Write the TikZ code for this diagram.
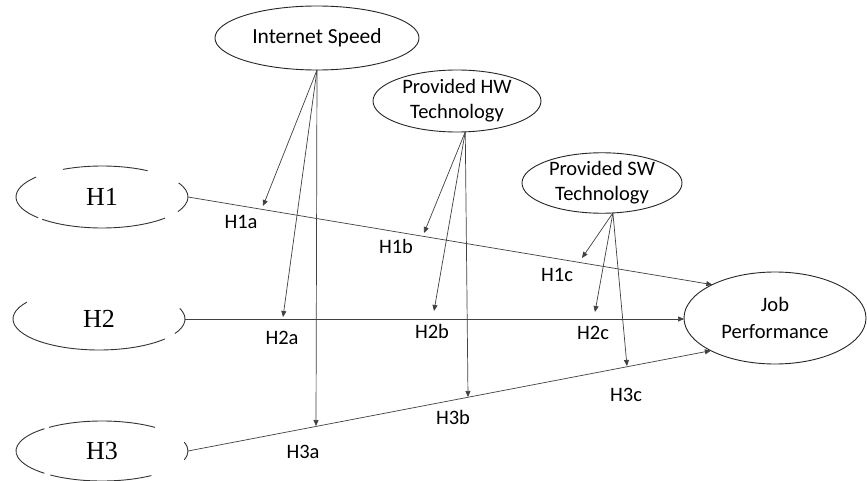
\documentclass[tikz,border=0pt]{standalone}
\usepackage{fontspec}
\setmainfont{Carlito}
\newfontfamily\hfont{Liberation Serif}
\usetikzlibrary{shapes.geometric,arrows.meta}
\newcommand\hyparc[5]{\draw[brk] ([shift={(#2:#4pt and #5pt)}]#1.center) arc[start angle=#2,end angle=#3,x radius=#4pt,y radius=#5pt];}
\begin{document}
\begin{tikzpicture}[x=1pt,y=1pt,
  conn/.style={draw=black!75, line width=0.7pt},
  arr/.style={conn, -{Triangle[length=6pt,width=5pt]}},
  ell/.style={ellipse, draw=black!85, line width=0.9pt, inner sep=0pt, outer sep=0pt, align=center, text=black, font=\fontsize{20.5}{25}\selectfont},
  hyp/.style={ellipse, inner sep=0pt, outer sep=0pt, minimum width=172pt, minimum height=62pt, text=black, font=\hfont\fontsize{26}{30}\selectfont},
  lbl/.style={font=\fontsize{20.5}{24}\selectfont, inner sep=0pt, text=black},
  brk/.style={draw=black!80, line width=0.9pt}
]
\useasboundingbox (0,0) rectangle (867,-481);
\fill[white] (0,0) rectangle (867,-481);

% hypothesis groups (broken ellipses)
\node[hyp] (H1) at (102,-197) {H1};
\node[hyp] (H2) at (99,-319) {H2};
\node[hyp, minimum height=60pt] (H3) at (102,-451) {H3};
\hyparc{H1}{140}{222}{86}{31}
\hyparc{H1}{58}{117}{86}{31}
\hyparc{H1}{226}{317}{86}{31}
\hyparc{H1}{-28}{27}{86}{31}
\hyparc{H2}{147}{320}{86}{31}
\hyparc{H2}{-28}{20}{86}{31}
\hyparc{H3}{52}{128}{86}{30}
\hyparc{H3}{132}{228}{86}{30}
\hyparc{H3}{233}{305}{86}{30}
\hyparc{H3}{-17}{17}{86}{30}

% moderators and outcome
\node[ell, minimum width=204pt, minimum height=64pt, font=\fontsize{21.5}{25}\selectfont] (IS) at (317,-38) {Internet Speed};
\node[ell, minimum width=168pt, minimum height=62pt] (HW) at (457,-101) {Provided HW\\Technology};
\node[ell, minimum width=160pt, minimum height=60pt] (SW) at (602,-183) {Provided SW\\Technology};
\node[ell, minimum width=182pt, minimum height=92pt] (JP) at (775,-318) {Job\\[2pt]Performance};

% main paths
\draw[arr] (H1.east) -- (JP.152);
\draw[arr] (H2.east) -- (H2.east -| JP.west);
\draw[arr] (H3.east) -- (JP.207);

% moderation targets
\coordinate (h1a) at (263,-206);
\coordinate (h2a) at (283,-317);
\coordinate (h3a) at (316,-426);
\coordinate (h1b) at (424,-233);
\coordinate (h2b) at (434,-311);
\coordinate (h3b) at (468,-397);
\coordinate (h1c) at (582,-258);
\coordinate (h2c) at (595,-312);
\coordinate (h3c) at (627,-366);

\draw[arr] (IS.south) -- (h1a);
\draw[arr] (IS.south) -- (h2a);
\draw[arr] (IS.south) -- (h3a);
\draw[arr] (HW.285) -- (h1b);
\draw[arr] (HW.285) -- (h2b);
\draw[arr] (HW.285) -- (h3b);
\draw[arr] (SW.290) -- (h1c);
\draw[arr] (SW.290) -- (h2c);
\draw[arr] (SW.290) -- (h3c);

% labels
\node[lbl] (l1a) at (241,-222) {H1a};
\node[lbl] (l1b) at (396,-246) {H1b};
\node[lbl] (l1c) at (557,-275) {H1c};
\node[lbl] (l2a) at (282,-338) {H2a};
\node[lbl] (l2b) at (432,-331) {H2b};
\node[lbl] (l2c) at (593,-333) {H2c};
\node[lbl] (l3a) at (303,-452) {H3a};
\node[lbl] (l3b) at (453,-417) {H3b};
\node[lbl] (l3c) at (626,-395) {H3c};
\end{tikzpicture}
\end{document}
